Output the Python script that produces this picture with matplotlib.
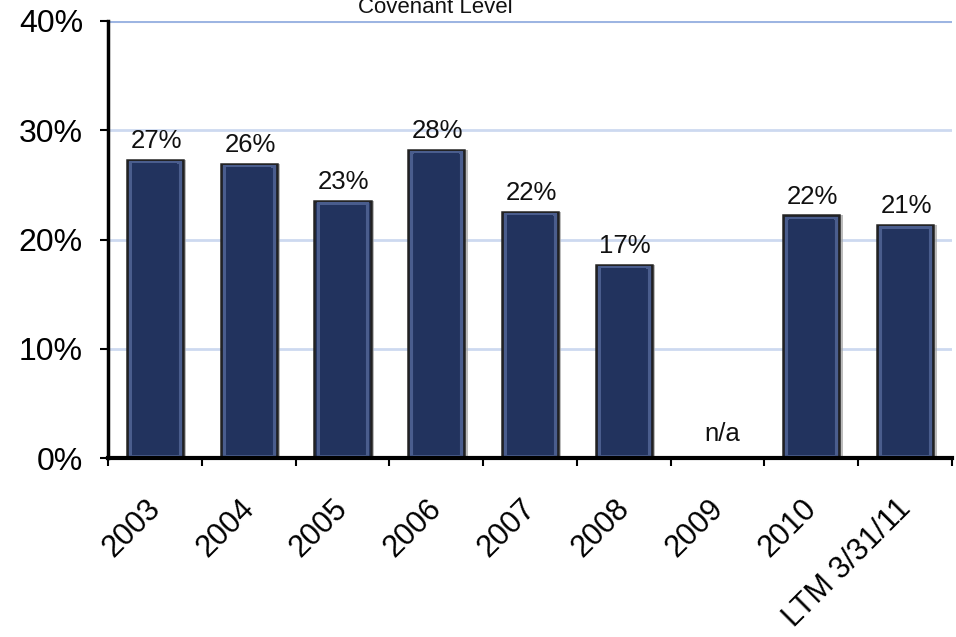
import numpy as np
import matplotlib
matplotlib.use("Agg")
import matplotlib.pyplot as plt
from matplotlib.transforms import ScaledTranslation

categories = ["2003", "2004", "2005", "2006", "2007", "2008", "2009", "2010", "LTM 3/31/11"]
values = [27.3, 26.9, 23.5, 28.2, 22.5, 17.7, np.nan, 22.2, 21.3]
labels = ["27%", "26%", "23%", "28%", "22%", "17%", "n/a", "22%", "21%"]
yticks = [0, 10, 20, 30, 40]
title = "Covenant Level"

plt.rcParams['font.family'] = ['Liberation Sans', 'DejaVu Sans']

fig = plt.figure(figsize=(9.56, 6.37), dpi=100)
ax = fig.add_axes([108/956, 1-458/637, (952-108)/956, (458-21)/637])

x = np.arange(len(categories))
vals = np.array(values)
plot_vals = np.nan_to_num(vals, nan=0.0)
bw = 0.6
mask = ~np.isnan(vals)

# gridlines
for t in yticks[1:-1]:
    ax.axhline(t, color='#cdd9f0', lw=2, zorder=0)
ax.axhline(40, color='#9db5e2', lw=2.2, zorder=0)

# shadow
ax.bar(x[mask] + 0.035, plot_vals[mask], width=bw, color='#a0a0a0', alpha=0.7, zorder=1, linewidth=0)
# main bars
ax.bar(x[mask], plot_vals[mask], width=bw, color='#23345f', edgecolor='#222222', linewidth=1.8, zorder=2)
# bevel highlight
ax.bar(x[mask], plot_vals[mask] - 0.35, width=bw - 0.07, bottom=0.15, facecolor='none',
       edgecolor='#4a5d8d', linewidth=2.2, zorder=3)
ax.bar(x[mask], plot_vals[mask] - 0.55, width=bw - 0.12, bottom=0.25, color='#22335e',
       linewidth=0, zorder=4)

for xi, v, lab in zip(x, vals, labels):
    if np.isnan(v):
        ax.annotate(lab, (xi, 0), xytext=(3, 12), textcoords='offset points',
                    ha='center', va='baseline', fontsize=18.5, color='#111111')
    else:
        ax.annotate(lab, (xi, v), xytext=(1, 8.5), textcoords='offset points',
                    ha='center', va='baseline', fontsize=18.5, color='#111111')

ax.set_xlim(-0.5, len(categories) - 0.5)
ax.set_ylim(0, 40)
ax.set_yticks(yticks)
ax.set_yticklabels([f"{t}%" for t in yticks], fontsize=23)
ax.tick_params(axis='y', length=6, width=1.5, pad=12, color='black')

ax.set_xticks(np.arange(len(categories) + 1) - 0.5)
ax.set_xticklabels([])
ax.set_xticks(x, minor=True)
ax.set_xticklabels(categories, minor=True, fontsize=22, rotation=45, ha='right', va='top',
                   rotation_mode='anchor')
ax.tick_params(axis='x', which='major', length=6, width=1.5, direction='out')
ax.tick_params(axis='x', which='minor', length=0, pad=25.5)
for lbl in ax.get_xticklabels(minor=True):
    lbl.set_transform(lbl.get_transform() + ScaledTranslation(-7/72, 0, fig.dpi_scale_trans))

for s in ['top', 'right']:
    ax.spines[s].set_visible(False)
ax.spines['left'].set_linewidth(2.5)
ax.spines['bottom'].set_linewidth(3)
ax.spines['left'].set_zorder(5)
ax.spines['bottom'].set_zorder(5)

fig.text(435/956, 1 - 13/637, title, ha='center', va='baseline', fontsize=16, color='#111111')

fig.savefig("out.png", dpi=100)
